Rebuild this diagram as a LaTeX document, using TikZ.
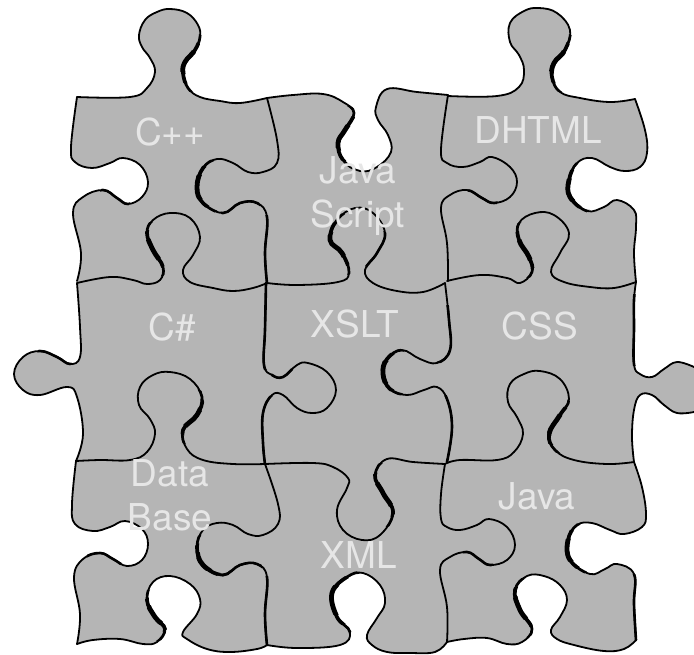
\documentclass[tikz,border=0pt]{standalone}
\usepackage{fontspec}
\setmainfont{TeX Gyre Heros}
\definecolor{piece}{HTML}{B5B5B5}
\definecolor{labeltxt}{HTML}{E6E6E6}
\tikzset{
  edgeline/.style={draw=black,line width=#1,line join=round,line cap=round},
  edgeline/.default=1.8pt,
  puzzlelabel/.style={text=labeltxt,font=\fontsize{37}{37}\selectfont,anchor=base,inner sep=0pt},
  smoothp/.style={smooth,tension=0.68}
}
\def\Ta{(77,97) (130,97) (147,88) (155,72) (150,58) (142,47) (139,35) (145,20) (157,12) (170,9) (187,13) (198,25) (200,37) (195,50) (185,62) (183,73) (188,88) (200,97) (220,101) (240,103) (267,98)}
\def\Tb{(267,98) (293,95) (323,94) (343,102) (354,113) (345,130) (338,143) (343,160) (360,171) (377,167) (391,152) (388,135) (378,120) (376,107) (387,89) (417,92) (448,95)}
\def\Tc{(448,96) (497,96) (519,87) (524,70) (519,55) (510,42) (510,23) (524,11) (539,8) (557,13) (570,30) (565,50) (554,63) (552,77) (560,92) (580,98) (610,102) (635,99)}
\def\Ra{(635,99) (645,130) (647,153) (640,167) (625,171) (610,167) (592,158) (577,163) (569,180) (570,197) (587,211) (604,207) (617,200) (634,210) (636,227) (634,253) (636,282)}
\def\Rb{(636,282) (634,300) (634,327) (634,364) (640,374) (652,377) (664,369) (677,362) (694,367)}
\def\Rc{(694,412) (677,413) (664,405) (652,395) (640,395) (634,410) (632,437) (634,462)}
\def\Rd{(634,462) (642,487) (646,514) (642,527) (624,534) (610,530) (592,523) (577,525) (568,540) (570,560) (590,574) (605,569) (617,564) (634,574) (634,604) (636,640)}
\def\Ba{(636,640) (624,649) (604,651) (574,645) (557,639) (551,630) (560,617) (567,600) (560,585) (544,576) (527,576) (515,590) (520,610) (532,629) (522,642) (507,644) (487,638) (464,639) (447,642)}
\def\Bb{(447,642) (435,652) (410,653) (387,652) (372,645) (367,635) (377,618) (385,603) (380,585) (363,573) (347,577) (332,593) (337,617) (350,632) (340,645) (297,648) (267,645)}
\def\Bc{(267,645) (257,649) (230,652) (207,649) (187,639) (183,632) (197,614) (200,599) (190,584) (170,576) (153,582) (147,600) (155,617) (165,629) (157,642) (143,644) (120,639) (93,640) (77,644)}
\def\La{(77,644) (80,614) (74,577) (83,559) (100,553) (113,559) (127,566) (142,560) (148,544) (142,529) (125,521) (110,527) (93,531) (75,524) (72,504) (76,461)}
\def\Lb{(76,461) (83,434) (77,397) (67,387) (40,395) (23,390) (14,374) (23,357) (40,351) (57,357) (70,364) (80,357) (80,327) (77,283)}
\def\Lc{(77,281) (81,253) (73,213) (83,197) (103,190) (117,198) (128,204) (142,197) (148,182) (140,165) (123,158) (110,163) (92,168) (75,162) (71,147) (77,97)}
\def\Ea{(267,98) (277,140) (277,163) (263,172) (248,172) (233,163) (217,159) (203,168) (197,187) (203,203) (223,213) (240,203) (257,203) (267,217) (265,253) (267,283)}
\def\Eb{(77,283) (110,277) (133,280) (147,284) (160,280) (163,267) (153,250) (147,233) (153,220) (170,213) (190,218) (200,237) (193,255) (183,270) (190,282) (213,288) (233,291) (253,288) (267,283)}
\def\Ec{(267,283) (297,285) (338,282) (349,273) (342,253) (330,240) (337,220) (355,208) (373,213) (385,233) (377,253) (365,270) (373,283) (397,291) (423,292) (445,283)}
\def\Ed{(448,95) (441,150) (447,163) (463,167) (480,162) (492,157) (510,167) (517,182) (510,197) (494,203) (482,198) (467,190) (450,195) (441,208) (447,243) (448,281)}
\def\Ee{(447,281) (480,275) (507,278) (520,283) (532,272) (529,257) (519,240) (519,223) (535,213) (554,215) (569,233) (560,253) (551,272) (564,282) (590,287) (614,288) (636,282)}
\def\Ef{(266,283) (265,330) (264,365) (272,375) (283,377) (297,365) (308,363) (327,372) (336,390) (327,408) (312,413) (297,408) (283,395) (272,395) (263,413) (263,443) (265,464)}
\def\Eg{(445,283) (449,320) (450,350) (437,363) (420,359) (402,350) (387,359) (383,374) (390,389) (407,395) (424,390) (437,387) (447,399) (452,427) (447,462)}
\def\Eh{(76,461) (100,460) (130,460) (147,452) (155,434) (150,419) (139,405) (140,387) (153,375) (170,372) (190,379) (202,397) (197,415) (183,430) (187,449) (203,460) (233,464) (265,464)}
\def\Ei{(265,464) (278,504) (278,524) (263,535) (248,534) (233,525) (217,523) (203,530) (197,547) (203,565) (223,575) (240,565) (257,564) (267,577) (265,614) (267,645)}
\def\Ej{(265,464) (313,463) (333,467) (348,478) (347,488) (337,510) (343,530) (362,540) (380,535) (393,513) (383,493) (375,475) (387,459) (413,462) (445,464)}
\def\Ek{(445,464) (460,460) (497,460) (514,452) (523,434) (517,417) (508,402) (510,384) (524,374) (540,371) (560,379) (569,399) (560,415) (549,434) (555,450) (574,460) (607,464) (634,462)}
\def\El{(445,464) (441,494) (441,519) (447,527) (460,530) (477,525) (489,519) (507,527) (515,545) (507,560) (490,565) (479,559) (467,552) (450,557) (440,570) (447,607) (447,642)}
% stroke one whole edge at a given width
\newcommand\edgeplot[2][1.8pt]{\expandafter\edgeplotx\expandafter{#2}{#1}}
\newcommand\edgeplotx[2]{\draw[edgeline=#2] plot[smoothp] coordinates {#1};}
% edge, centre, radius: the same spline, heavier inside a circle
\newcommand\heavyone[4]{\begin{scope}\clip #2 circle[radius=#3 pt];\edgeplot[#4]{#1}\end{scope}}
\newcommand\swell[3]{%
  \pgfmathsetmacro\rb{#3*0.72}\pgfmathsetmacro\rc{#3*0.42}%
  \heavyone{#1}{#2}{#3}{2.7pt}\heavyone{#1}{#2}{\rb}{3.7pt}\heavyone{#1}{#2}{\rc}{4.8pt}}
\newcommand\firm[3]{\heavyone{#1}{#2}{#3}{2.6pt}}
\begin{document}
\begin{tikzpicture}[x=1pt,y=-1pt]
\useasboundingbox (0,0) rectangle (694,654);
\clip (0,0) rectangle (694,654);
% silhouette
\fill[piece] plot[smoothp] coordinates {(77,97) (130,97) (147,88) (155,72) (150,58) (142,47) (139,35) (145,20) (157,12) (170,9) (187,13) (198,25) (200,37) (195,50) (185,62) (183,73) (188,88) (200,97) (220,101) (240,103) (267,98)}
 -- plot[smoothp] coordinates {(267,98) (293,95) (323,94) (343,102) (354,113) (345,130) (338,143) (343,160) (360,171) (377,167) (391,152) (388,135) (378,120) (376,107) (387,89) (417,92) (448,95)}
 -- plot[smoothp] coordinates {(448,96) (497,96) (519,87) (524,70) (519,55) (510,42) (510,23) (524,11) (539,8) (557,13) (570,30) (565,50) (554,63) (552,77) (560,92) (580,98) (610,102) (635,99)}
 -- plot[smoothp] coordinates {(635,99) (645,130) (647,153) (640,167) (625,171) (610,167) (592,158) (577,163) (569,180) (570,197) (587,211) (604,207) (617,200) (634,210) (636,227) (634,253) (636,282)}
 -- plot[smoothp] coordinates {(636,282) (634,300) (634,327) (634,364) (640,374) (652,377) (664,369) (677,362) (694,367)}
 -- plot[smoothp] coordinates {(694,412) (677,413) (664,405) (652,395) (640,395) (634,410) (632,437) (634,462)}
 -- plot[smoothp] coordinates {(634,462) (642,487) (646,514) (642,527) (624,534) (610,530) (592,523) (577,525) (568,540) (570,560) (590,574) (605,569) (617,564) (634,574) (634,604) (636,640)}
 -- plot[smoothp] coordinates {(636,640) (624,649) (604,651) (574,645) (557,639) (551,630) (560,617) (567,600) (560,585) (544,576) (527,576) (515,590) (520,610) (532,629) (522,642) (507,644) (487,638) (464,639) (447,642)}
 -- plot[smoothp] coordinates {(447,642) (435,652) (410,653) (387,652) (372,645) (367,635) (377,618) (385,603) (380,585) (363,573) (347,577) (332,593) (337,617) (350,632) (340,645) (297,648) (267,645)}
 -- plot[smoothp] coordinates {(267,645) (257,649) (230,652) (207,649) (187,639) (183,632) (197,614) (200,599) (190,584) (170,576) (153,582) (147,600) (155,617) (165,629) (157,642) (143,644) (120,639) (93,640) (77,644)}
 -- plot[smoothp] coordinates {(77,644) (80,614) (74,577) (83,559) (100,553) (113,559) (127,566) (142,560) (148,544) (142,529) (125,521) (110,527) (93,531) (75,524) (72,504) (76,461)}
 -- plot[smoothp] coordinates {(76,461) (83,434) (77,397) (67,387) (40,395) (23,390) (14,374) (23,357) (40,351) (57,357) (70,364) (80,357) (80,327) (77,283)}
 -- plot[smoothp] coordinates {(77,281) (81,253) (73,213) (83,197) (103,190) (117,198) (128,204) (142,197) (148,182) (140,165) (123,158) (110,163) (92,168) (75,162) (71,147) (77,97)}
 -- cycle;
% edges
\edgeplot\Ta \edgeplot\Tb \edgeplot\Tc \edgeplot\Ra \edgeplot\Rb \edgeplot\Rc \edgeplot\Rd
\edgeplot\Ba \edgeplot\Bb \edgeplot\Bc \edgeplot\La \edgeplot\Lb \edgeplot\Lc
\edgeplot\Ea \edgeplot\Eb \edgeplot\Ec \edgeplot\Ed \edgeplot\Ee \edgeplot\Ef
\edgeplot\Eg \edgeplot\Eh \edgeplot\Ei \edgeplot\Ej \edgeplot\Ek \edgeplot\El
% heavier stretches
\swell\Ta{(188,62)}{30}
\swell\Tc{(558,62)}{30}
\swell\Tb{(345,138)}{32}
\swell\Ea{(199,187)}{30}
\swell\Eb{(152,250)}{28}
\swell\Ec{(337,245)}{32}
\firm\Ec{(377,250)}{20}
\firm\Ed{(482,198)}{16}
\swell\Ee{(525,250)}{28}
\swell\Ra{(570,190)}{28}
\firm\Lc{(115,197)}{16}
\firm\Ef{(265,325)}{45}
\firm\Ef{(264,430)}{35}
\firm\Ef{(283,377)}{12}
\firm\Eg{(450,335)}{30}
\firm\Eg{(450,430)}{35}
\swell\Eg{(385,372)}{28}
\swell\Eh{(192,417)}{28}
\firm\Lb{(55,356)}{18}
\swell\Ej{(383,495)}{32}
\swell\Ek{(556,425)}{28}
\swell\Rd{(569,550)}{28}
\firm\El{(478,558)}{16}
\swell\Ba{(520,608)}{30}
\swell\Bb{(335,600)}{36}
\swell\Bc{(155,615)}{26}
\swell\Ei{(207,560)}{26}
\firm\Ei{(265,612)}{36}
\firm\Ei{(240,567)}{22}
\firm\Ea{(265,250)}{35}
\firm\Ea{(240,207)}{20}
\firm\Rb{(634,330)}{36}
\firm\Rd{(634,610)}{36}
\firm\La{(105,556)}{18}
% labels
\node[puzzlelabel] (cpp) at (170,145) {C++};
\node[puzzlelabel] (dhtml) at (538,143) {DHTML};
\node[puzzlelabel] (java1) at (358,183) {Java};
\node[puzzlelabel] (script) at (358,227) {Script};
\node[puzzlelabel] (csharp) at (172,340) {C\#};
\node[puzzlelabel] (xslt) at (355,337) {XSLT};
\node[puzzlelabel] (css) at (540,339) {CSS};
\node[puzzlelabel] (data) at (170,486) {Data};
\node[puzzlelabel] (base) at (170,530) {Base};
\node[puzzlelabel] (java2) at (537,509) {Java};
\node[puzzlelabel] (xml) at (359,568) {XML};
\end{tikzpicture}
\end{document}
